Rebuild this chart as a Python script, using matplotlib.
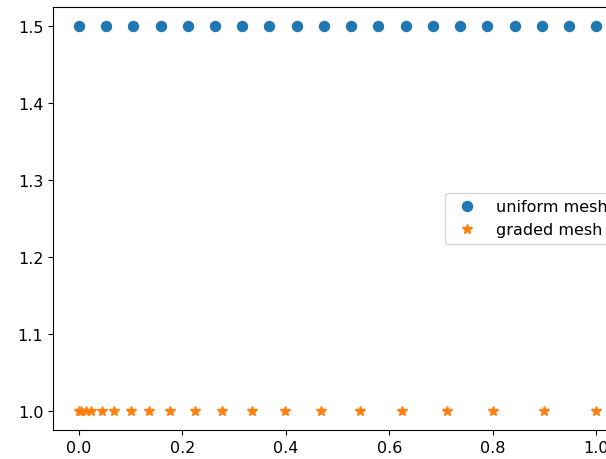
import numpy as np
import matplotlib
matplotlib.use('Agg')
import matplotlib.pyplot as plt

plt.rcParams['font.size'] = 11.5

# uniform mesh nodes (20 equally spaced points on [0, 1])
uniform_x = [0.0, 0.0526, 0.1053, 0.1579, 0.2105, 0.2632, 0.3158, 0.3684, 0.4211, 0.4737,
             0.5263, 0.5789, 0.6316, 0.6842, 0.7368, 0.7895, 0.8421, 0.8947, 0.9474, 1.0]
uniform_y = [1.5] * len(uniform_x)

# graded mesh nodes
graded_x = [0.0, 0.004, 0.013, 0.024, 0.044, 0.068, 0.1, 0.136, 0.177, 0.225,
            0.276, 0.335, 0.399, 0.468, 0.543, 0.625, 0.711, 0.801, 0.899, 1.0]
graded_y = [1.0] * len(graded_x)

fig = plt.figure(figsize=(6.06, 4.60), dpi=100)
ax = fig.add_axes([0.0875, 0.063, 0.939, 0.92])

ax.plot(uniform_x, uniform_y, 'o', ms=7.2, label='uniform mesh')
ax.plot(graded_x, graded_y, '*', ms=7.2, label='graded mesh')
ax.legend(loc='center right')

fig.savefig('out.png', dpi=100)
